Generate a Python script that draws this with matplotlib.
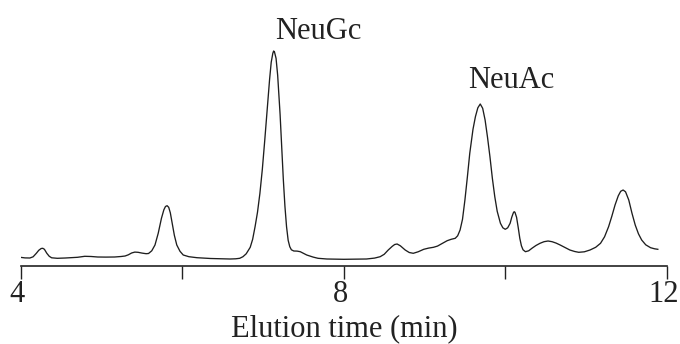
import matplotlib
matplotlib.use("Agg")
import matplotlib.pyplot as plt
import matplotlib.transforms as mtransforms

# Elution time (min) and detector response (arbitrary units)
time_min = [3.99, 4.05, 4.11, 4.15, 4.19, 4.22, 4.25, 4.27, 4.29, 4.32, 4.35, 4.38, 4.45,
            4.55, 4.70, 4.79, 4.87, 4.95, 5.05, 5.16, 5.24, 5.29, 5.33, 5.37, 5.41, 5.45,
            5.50, 5.55, 5.58, 5.62, 5.66, 5.70, 5.74, 5.77, 5.79, 5.81, 5.83, 5.85, 5.87,
            5.90, 5.93, 5.97, 6.01, 6.08, 6.18, 6.35, 6.50, 6.59, 6.66, 6.71, 6.75, 6.79,
            6.84, 6.87, 6.90, 6.93, 6.96, 6.99, 7.02, 7.05, 7.08, 7.10, 7.12, 7.13, 7.14,
            7.16, 7.18, 7.21, 7.23, 7.25, 7.27, 7.29, 7.31, 7.33, 7.35, 7.38, 7.42, 7.46,
            7.50, 7.54, 7.58, 7.62, 7.68, 7.79, 8.00, 8.28, 8.38, 8.45, 8.50, 8.55, 8.60,
            8.63, 8.66, 8.70, 8.76, 8.81, 8.86, 8.92, 8.99, 9.05, 9.11, 9.16, 9.21, 9.28,
            9.33, 9.38, 9.41, 9.44, 9.47, 9.50, 9.53, 9.56, 9.60, 9.63, 9.66, 9.69, 9.72,
            9.75, 9.78, 9.81, 9.84, 9.87, 9.90, 9.94, 9.97, 10.00, 10.03, 10.06, 10.08,
            10.10, 10.11, 10.12, 10.14, 10.16, 10.18, 10.20, 10.22, 10.25, 10.29, 10.33,
            10.38, 10.43, 10.48, 10.53, 10.58, 10.63, 10.68, 10.74, 10.80, 10.86, 10.91,
            10.98, 11.05, 11.12, 11.18, 11.23, 11.28, 11.32, 11.36, 11.40, 11.43, 11.46,
            11.49, 11.53, 11.57, 11.61, 11.65, 11.69, 11.74, 11.80, 11.85, 11.89]
signal = [2.0, 1.4, 1.3, 2.5, 6.0, 9.0, 10.8, 11.0, 10.0, 6.0, 3.0, 1.5, 1.0,
          1.3, 2.0, 3.0, 2.8, 2.3, 2.2, 2.3, 2.8, 3.3, 4.5, 6.3, 7.2, 7.0,
          6.2, 5.6, 5.8, 8.5, 14.3, 26.0, 41.0, 49.5, 52.8, 53.6, 52.0, 46.5, 37.6,
          24.0, 14.3, 8.0, 4.3, 2.6, 1.6, 0.8, 0.5, 0.3, 0.5, 1.0, 2.6, 5.5,
          12.0, 20.0, 32.6, 47.0, 66.0, 90.0, 119.0, 150.0, 180.0, 197.0, 206.0, 208.3, 207.5,
          201.0, 184.0, 145.0, 112.0, 80.0, 53.0, 32.6, 19.0, 12.6, 9.5, 8.3, 8.2, 7.6,
          6.0, 4.3, 3.2, 2.2, 1.0, 0.3, 0.0, 0.3, 1.2, 2.6, 5.0, 9.3, 13.0,
          14.8, 15.3, 13.5, 9.3, 6.8, 6.0, 7.5, 10.0, 11.2, 12.0, 13.2, 15.5, 18.6,
          20.0, 21.0, 23.5, 29.3, 40.0, 59.3, 82.0, 106.0, 130.0, 142.6, 151.5, 155.3, 151.0,
          139.3, 122.0, 102.6, 81.0, 62.6, 48.0, 36.0, 31.5, 30.0, 31.5, 36.0, 42.0,
          46.5, 47.6, 47.0, 42.0, 32.0, 21.0, 13.5, 9.5, 7.6, 8.5, 11.0,
          13.8, 16.0, 17.6, 18.3, 17.6, 16.2, 14.3, 11.8, 9.3, 7.8, 7.0,
          7.5, 9.3, 12.0, 16.0, 22.5, 32.6, 43.0, 54.3, 63.5, 68.0, 69.3,
          67.5, 59.3, 46.0, 34.3, 25.5, 19.3, 14.5, 11.6, 10.5, 10.0]

tick_values = [4, 6, 8, 10, 12]
tick_labels = ["4", "", "8", "", "12"]
x_label = "Elution time (min)"
peak_names = ["NeuGc", "NeuAc"]
peak_label_x = [7.68, 10.08]
peak_label_y = [220.3, 171.0]

plt.rcParams['font.family'] = ['Liberation Serif', 'DejaVu Serif']

fig = plt.figure(figsize=(6.8, 3.44), dpi=100)
ax = fig.add_axes([21 / 680, (344 - 266) / 344, (666.7 - 21) / 680, 266 / 344])

ax.plot(time_min, signal, color="#1e1e1e", lw=0.95, solid_joinstyle="round")

ax.set_xlim(4, 12)
ax.set_ylim(-6.7, 259.3)
for s in ("left", "right", "top"):
    ax.spines[s].set_visible(False)
ax.spines["bottom"].set_linewidth(1.2)
ax.spines["bottom"].set_color("#222222")
ax.set_yticks([])
ax.set_xticks(tick_values)
ax.set_xticklabels(tick_labels)
ax.tick_params(axis="x", direction="out", length=9.4, width=1.0, pad=0.8,
               labelsize=22, colors="#222222")
shift = mtransforms.ScaledTranslation(-3.5 / 100, 0, fig.dpi_scale_trans)
for lab in ax.get_xticklabels():
    lab.set_transform(lab.get_transform() + shift)
ax.set_xlabel(x_label, fontsize=22, labelpad=3.5, color="#222222")
ax.patch.set_alpha(0)

for name, xx, yy in zip(peak_names, peak_label_x, peak_label_y):
    ax.text(xx, yy, name, fontsize=22, ha="center", va="baseline", color="#222222")

fig.savefig("out.png", dpi=100, facecolor="white")
